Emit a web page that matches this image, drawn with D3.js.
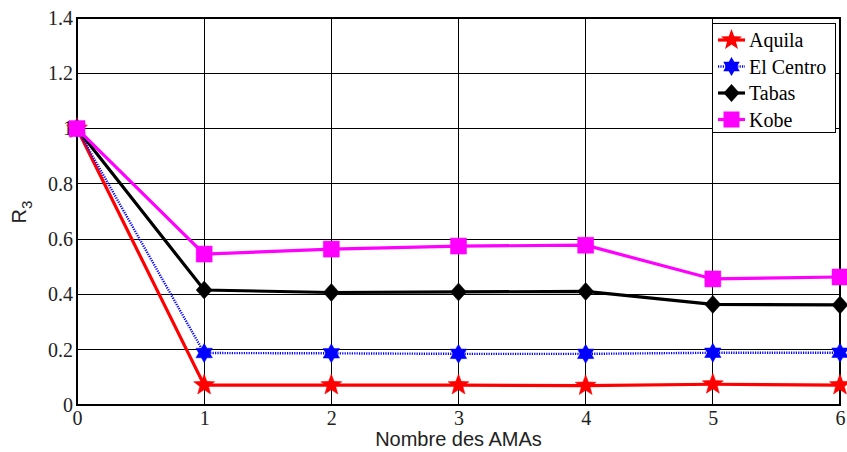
<!DOCTYPE html>
<html><head><meta charset="utf-8">
<script src="https://cdn.jsdelivr.net/npm/d3@7"></script>
<style>body{margin:0;background:#fff}</style>
</head><body>
<svg id="c" width="847" height="452"></svg>
<script>
const xValues = [0,1,2,3,4,5,6];
const aquila   = [1.0,0.072,0.072,0.072,0.070,0.075,0.072];
const elCentro = [1.0,0.188,0.187,0.185,0.185,0.189,0.189];
const tabas    = [1.0,0.416,0.407,0.409,0.411,0.364,0.362];
const kobe     = [1.0,0.546,0.564,0.575,0.578,0.456,0.463];
const seriesNames = ["Aquila","El Centro","Tabas","Kobe"];
const xTicks = [0,1,2,3,4,5,6];
const yTicks = [0,0.2,0.4,0.6,0.8,1,1.2,1.4];

const SERIF = "Liberation Serif";
const SANS = "Liberation Sans";
const svg = d3.select("#c");
const L=77,R=840,T=18,B=405;
const x = d3.scaleLinear().domain([0,6]).range([L,R]);
const y = d3.scaleLinear().domain([0,1.4]).range([B,T]);

// grid
const g = svg.append("g");
g.selectAll(".gx").data(xTicks).join("line")
  .attr("x1",d=>x(d)).attr("x2",d=>x(d)).attr("y1",T).attr("y2",B)
  .attr("stroke","#000").attr("stroke-width",1).attr("shape-rendering","crispEdges");
g.selectAll(".gy").data(yTicks).join("line")
  .attr("y1",d=>y(d)).attr("y2",d=>y(d)).attr("x1",L).attr("x2",R)
  .attr("stroke","#000").attr("stroke-width",1).attr("shape-rendering","crispEdges");
svg.append("rect").attr("x",L).attr("y",T).attr("width",R-L).attr("height",B-T)
  .attr("fill","none").attr("stroke","#000").attr("stroke-width",1.3).attr("shape-rendering","crispEdges");

// axes (labels)
const ax = svg.append("g").attr("transform",`translate(0,${B})`)
  .call(d3.axisBottom(x).tickValues(xTicks).tickFormat(d3.format("d")).tickSize(0).tickPadding(6));
const ay = svg.append("g").attr("transform",`translate(${L},0)`)
  .call(d3.axisLeft(y).tickValues(yTicks).tickFormat(d=>d===0?"0":(d===1?"1":d3.format(".1f")(d))).tickSize(0).tickPadding(4));
[ax,ay].forEach(a=>{a.select(".domain").remove();
  a.attr("font-family",SERIF).attr("font-size",20);
  a.selectAll("text").attr("font-family",SERIF).attr("font-size",20).attr("fill","#222");});

svg.append("text").attr("x",(L+R)/2).attr("y",446).attr("text-anchor","middle")
  .attr("font-family",SANS).attr("font-size",20).attr("fill","#222")
  .text("Nombre des AMAs");
const yl = svg.append("text").attr("transform","translate(26,212) rotate(-90)")
  .attr("text-anchor","middle").attr("font-family",SANS).attr("font-size",20).attr("fill","#222");
yl.append("tspan").text("R");
yl.append("tspan").attr("font-size",15).attr("dy",6).text("3");

// symbols
function starPath(r, n, inner){ let p=[]; for(let i=0;i<2*n;i++){const a=-Math.PI/2+i*Math.PI/n; const rr=i%2?r*inner:r; p.push([rr*Math.cos(a),rr*Math.sin(a)]);} return "M"+p.map(q=>q.join(",")).join("L")+"Z"; }
const shapes = [
  {data:aquila,color:"#ff0000",w:3.2,dash:null,sym:starPath(11,5,0.42)},
  {data:elCentro,color:"#0000ff",w:2.4,dash:"1.2,1.2",sym:starPath(9.5,6,0.58)},
  {data:tabas,color:"#000000",w:3.2,dash:null,sym:"M0,-9L8,0L0,9L-8,0Z"},
  {data:kobe,color:"#ff00ff",w:3.2,dash:null,sym:"M-8,-8H8V8H-8Z"}
];
const line = d3.line().x((d,i)=>x(xValues[i])).y(d=>y(d));
shapes.forEach(s=>{
  svg.append("path").datum(s.data).attr("d",line).attr("fill","none")
    .attr("stroke",s.color).attr("stroke-width",s.w).attr("stroke-dasharray",s.dash);
  svg.append("g").selectAll("path").data(s.data).join("path")
    .attr("transform",(d,i)=>`translate(${x(xValues[i])},${y(d)})`)
    .attr("d",s.sym).attr("fill",s.color).attr("stroke",s.color).attr("stroke-width",0.5);
});

// legend
const lg = svg.append("g");
lg.append("rect").attr("x",712).attr("y",23).attr("width",123).attr("height",109)
  .attr("fill","#fff").attr("stroke","#000").attr("shape-rendering","crispEdges");
shapes.forEach((s,i)=>{
  const yy = 40 + i*26.5;
  lg.append("line").attr("x1",718).attr("x2",745).attr("y1",yy).attr("y2",yy)
    .attr("stroke",s.color).attr("stroke-width",s.w).attr("stroke-dasharray",s.dash);
  lg.append("path").attr("transform",`translate(731.5,${yy})`).attr("d",s.sym).attr("fill",s.color);
  lg.append("text").attr("x",749).attr("y",yy+7)
    .attr("font-family",SERIF).attr("font-size",20).attr("fill","#000").text(seriesNames[i]);
});
</script>
</body></html>
